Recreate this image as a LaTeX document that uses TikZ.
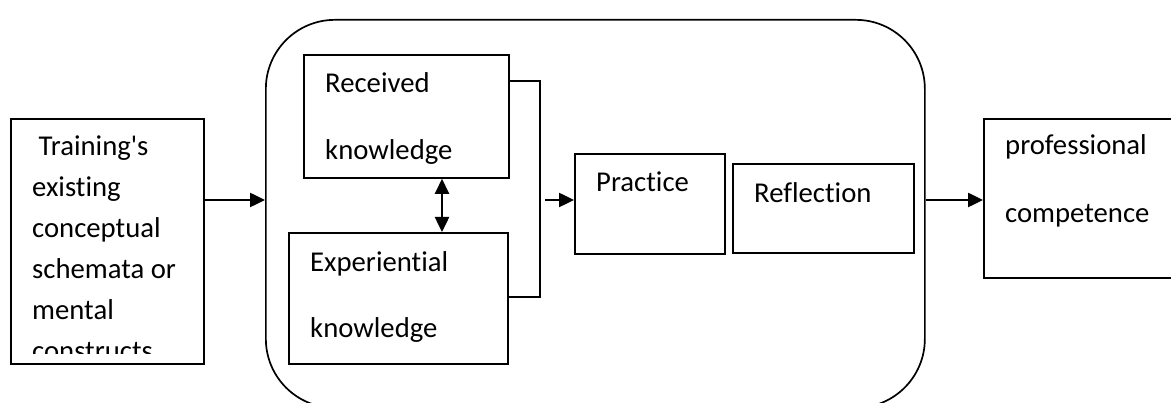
\documentclass[tikz,border=0pt]{standalone}
\usepackage{fontspec}
\setmainfont{Carlito}[Ligatures={NoCommon}]
\usetikzlibrary{arrows.meta}
\begin{document}
\begin{tikzpicture}[x=1pt,y=-1pt,
  box/.style={draw,line width=1.8pt,rectangle,inner sep=0pt,anchor=north west},
  frame/.style={draw,line width=1.7pt,rectangle,rounded corners=69pt,inner sep=0pt,anchor=north west},
  lbl/.style={anchor=base west,inner sep=0pt,font=\fontsize{28.7}{34}\selectfont},
  flow/.style={line width=2.5pt,-{Triangle[length=15pt,width=14pt]}},
  both/.style={line width=2.5pt,{Triangle[length=15pt,width=14pt]}-{Triangle[length=15pt,width=14pt]}},
  link/.style={line width=1.8pt}]
\useasboundingbox (0,0) rectangle (1171,403);

% boxes
\node[box,minimum width=193pt,minimum height=245pt] (trainee) at (10,118) {};
\node[frame,minimum width=659pt,minimum height=388pt] (core) at (265,19) {};
\node[box,minimum width=205pt,minimum height=123pt] (recv) at (303,54) {};
\node[box,minimum width=219pt,minimum height=131pt] (exper) at (288,232) {};
\node[box,minimum width=150pt,minimum height=100pt] (prac) at (574,153) {};
\node[box,minimum width=181pt,minimum height=89pt] (refl) at (732,163) {};
\node[box,minimum width=200pt,minimum height=159pt] (comp) at (983,118) {};

% text of the first box, cut off at its lower edge
\begin{scope}
  \clip (trainee.north west) rectangle ([yshift=11pt]trainee.south east);
  \node[lbl] (t1) at (32,156) {\ Training\textquotesingle s};
  \node[lbl] (t2) at (32,197) {existing};
  \node[lbl] (t3) at (32,238) {conceptual};
  \node[lbl] (t4) at (32,279) {schemata or};
  \node[lbl] (t5) at (32,320) {mental};
  \node[lbl] (t6) at (32,361) {constructs};
\end{scope}

\node[lbl] (r1) at (325,93) {Received};
\node[lbl] (r2) at (325,160) {knowledge};
\node[lbl] (e1) at (310,272) {Experiential};
\node[lbl] (e2) at (310,338) {knowledge};
\node[lbl] (p1) at (596,192) {Practice};
\node[lbl] (f1) at (754,203) {Reflection};
\node[lbl] (c1) at (1005,155) {professional};
\node[lbl] (c2) at (1005,223) {competence};

% connectors
\coordinate (mid) at (0,200);
\coordinate (dbl) at (442,0);
\coordinate (brk) at (540,0);
\coordinate (feed) at (545,200);
\draw[flow] (trainee.east |- mid) -- (core.west |- mid);
\draw[both] (recv.south -| dbl) -- (exper.north -| dbl);
\draw[link] (recv.east |- 0,81) -| (brk |- 0,297) -- (exper.east |- 0,297);
\draw[flow] (feed) -- (prac.west |- mid);
\draw[flow] (core.east |- mid) -- (comp.west |- mid);
\end{tikzpicture}
\end{document}
